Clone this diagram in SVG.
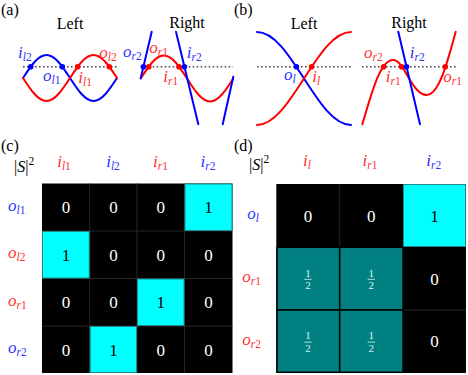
<svg xmlns="http://www.w3.org/2000/svg" width="468" height="375" viewBox="0 0 468 375">
<style>
.c{fill:none;stroke-width:2;stroke-linecap:round}
.b{stroke:#0000ff}
.r{stroke:#ff0000}
.db{fill:#0000ff}
.dr{fill:#ff0000}
.dash{stroke:#444;stroke-width:1.5;stroke-dasharray:1.6 2.4;fill:none}
.t{font-family:"Liberation Serif","Times New Roman",serif;font-size:16px;fill:#000}
.m{font-family:"Liberation Serif","Times New Roman",serif;font-style:italic;font-size:17px}
.lb{fill:#3030ff}
.lr{fill:#ff3030}
.sub{font-size:11.5px}
.up{font-style:normal}
.n{font-family:"Liberation Serif","Times New Roman",serif;font-size:17px;text-anchor:middle}
.w{fill:#fff}
.k{fill:#000}
.f{font-family:"Liberation Serif","Times New Roman",serif;font-size:11px;text-anchor:middle;fill:#d8f4f4}
.cy{fill:#00ffff;stroke:#1f8a8a;stroke-width:1}
.tl{fill:#008080;stroke:#000;stroke-width:1.5}
.g{stroke:#262626;stroke-width:1}
</style>

<g id="panel-a">
  <text class="t" x="1" y="15">(a)</text>
  <text class="t" x="70" y="29" text-anchor="middle">Left</text>
  <text class="t" x="187" y="28" text-anchor="middle">Right</text>
  <line class="dash" x1="23" y1="66.7" x2="117" y2="66.7"/>
  <path class="c b" d="M23,78 C30.860,65.92 38.04,55 46.5,55 C54.96,55 62.14,65.92 70,78 C77.86,90.08 85.04,101 93.5,101 C101.96,101 109.14,90.08 117,78"/>
  <path class="c r" d="M23,78 C30.86,90.08 38.04,101 46.5,101 C54.96,101 62.14,90.08 70,78 C77.86,65.92 85.04,55 93.5,55 C101.96,55 109.14,65.92 117,78"/>
  <circle class="db" cx="30.7" cy="66.7" r="2.8"/>
  <circle class="db" cx="62.3" cy="66.7" r="2.8"/>
  <circle class="dr" cx="77.7" cy="66.7" r="2.8"/>
  <circle class="dr" cx="109.3" cy="66.7" r="2.8"/>
  <text class="m lb" x="18" y="58">i<tspan class="sub" dy="3">l</tspan><tspan class="sub up">2</tspan></text>
  <text class="m lb" x="43" y="80.5">o<tspan class="sub" dy="3">l</tspan><tspan class="sub up">1</tspan></text>
  <text class="m lr" x="78.3" y="83">i<tspan class="sub" dy="3">l</tspan><tspan class="sub up">1</tspan></text>
  <text class="m lr" x="99.3" y="58">o<tspan class="sub" dy="3">l</tspan><tspan class="sub up">2</tspan></text>

  <line class="dash" x1="140.7" y1="66.7" x2="233" y2="66.7"/>
  <path class="c r" d="M140.7,78.5 C148.44,66.42 155.52,55.5 163.85,55.5 C172.18,55.5 179.26,66.42 187,78.5 C194.74,90.58 201.82,101.5 210.15,101.5 C218.48,101.5 225.56,90.58 233.3,78.5"/>
  <line class="c b" x1="151.7" y1="31.7" x2="140.7" y2="78.3"/>
  <line class="c b" x1="176" y1="31.7" x2="198.3" y2="124.3"/>
  <line class="c b" x1="222.7" y1="124.3" x2="233.3" y2="76.7"/>
  <circle class="db" cx="143.4" cy="66.7" r="2.8"/>
  <circle class="dr" cx="148.8" cy="66.7" r="2.8"/>
  <circle class="dr" cx="179" cy="66.7" r="2.8"/>
  <circle class="db" cx="184.4" cy="66.7" r="2.8"/>
  <text class="m lb" x="123" y="56.5">o<tspan class="sub" dy="3">r</tspan><tspan class="sub up">2</tspan></text>
  <text class="m lr" x="149.3" y="52.5">o<tspan class="sub" dy="3">r</tspan><tspan class="sub up">1</tspan></text>
  <text class="m lb" x="186.7" y="58">i<tspan class="sub" dy="3">r</tspan><tspan class="sub up">2</tspan></text>
  <text class="m lr" x="163.3" y="82">i<tspan class="sub" dy="3">r</tspan><tspan class="sub up">1</tspan></text>
</g>

<g id="panel-b">
  <text class="t" x="234" y="15">(b)</text>
  <text class="t" x="304" y="29" text-anchor="middle">Left</text>
  <text class="t" x="409" y="28" text-anchor="middle">Right</text>
  <line class="dash" x1="257" y1="66.7" x2="351" y2="66.7"/>
  <path class="c b" d="M257,32 C273.92,32 288.29,54.08 304,78.5 C319.71,102.92 334.08,125 351,125"/>
  <path class="c r" d="M257,125 C273.92,125 288.29,102.92 304,78.5 C319.71,54.08 334.08,32 351,32"/>
  <circle class="db" cx="296.4" cy="66.7" r="2.8"/>
  <circle class="dr" cx="311.6" cy="66.7" r="2.8"/>
  <text class="m lb" x="284" y="80">o<tspan class="sub" dy="3">l</tspan></text>
  <text class="m lr" x="312.3" y="81.5">i<tspan class="sub" dy="3">l</tspan></text>

  <line class="dash" x1="362" y1="66.7" x2="456" y2="66.7"/>
  <path class="c r" d="M362.3,124.3 C372,92 380,60 393.3,60 C404,60 412,95 426.7,95 C438,95 446,68 455.7,31.7"/>
  <line class="c b" x1="398.3" y1="31.7" x2="420" y2="124.3"/>
  <circle class="dr" cx="383.6" cy="66.7" r="2.8"/>
  <circle class="dr" cx="401.6" cy="66.7" r="2.8"/>
  <circle class="db" cx="406.5" cy="66.7" r="2.8"/>
  <circle class="dr" cx="445.3" cy="66.7" r="2.8"/>
  <text class="m lr" x="364" y="58">o<tspan class="sub" dy="3">r</tspan><tspan class="sub up">2</tspan></text>
  <text class="m lb" x="409.7" y="58">i<tspan class="sub" dy="3">r</tspan><tspan class="sub up">2</tspan></text>
  <text class="m lr" x="385.7" y="81.5">i<tspan class="sub" dy="3">r</tspan><tspan class="sub up">1</tspan></text>
  <text class="m lr" x="443.3" y="81.5">o<tspan class="sub" dy="3">r</tspan><tspan class="sub up">1</tspan></text>
</g>

<g id="panel-c">
  <text class="t" x="1" y="151">(c)</text>
  <text class="t" x="14" y="172">|<tspan font-style="italic">S</tspan>|<tspan font-size="11.5" dy="-7">2</tspan></text>
  <text class="m lr" x="64" y="166.5" text-anchor="middle">i<tspan class="sub" dy="3">l</tspan><tspan class="sub up">1</tspan></text>
  <text class="m lb" x="113" y="166.5" text-anchor="middle">i<tspan class="sub" dy="3">l</tspan><tspan class="sub up">2</tspan></text>
  <text class="m lr" x="160.5" y="166.5" text-anchor="middle">i<tspan class="sub" dy="3">r</tspan><tspan class="sub up">1</tspan></text>
  <text class="m lb" x="208" y="166.5" text-anchor="middle">i<tspan class="sub" dy="3">r</tspan><tspan class="sub up">2</tspan></text>
  <text class="m lb" x="8" y="210.5">o<tspan class="sub" dy="3">l</tspan><tspan class="sub up">1</tspan></text>
  <text class="m lr" x="8" y="258">o<tspan class="sub" dy="3">l</tspan><tspan class="sub up">2</tspan></text>
  <text class="m lr" x="8" y="305.5">o<tspan class="sub" dy="3">r</tspan><tspan class="sub up">1</tspan></text>
  <text class="m lb" x="8" y="353">o<tspan class="sub" dy="3">r</tspan><tspan class="sub up">2</tspan></text>
  <rect x="42" y="183.5" width="190.5" height="189.5" fill="#000"/>
  <g class="g">
    <line x1="89.7" y1="183.5" x2="89.7" y2="373"/>
    <line x1="137" y1="183.5" x2="137" y2="373"/>
    <line x1="184.5" y1="183.5" x2="184.5" y2="373"/>
    <line x1="42" y1="231" x2="232.5" y2="231"/>
    <line x1="42" y1="278.5" x2="232.5" y2="278.5"/>
    <line x1="42" y1="326" x2="232.5" y2="326"/>
  </g>
  <rect class="cy" x="185" y="184" width="47" height="46.5"/>
  <rect class="cy" x="42.5" y="231.5" width="46.7" height="46.5"/>
  <rect class="cy" x="137.5" y="279" width="46.5" height="46.5"/>
  <rect class="cy" x="90.2" y="326.5" width="46.3" height="46"/>
  <text class="n w" x="65.9" y="213">0</text>
  <text class="n w" x="113.4" y="213">0</text>
  <text class="n w" x="160.8" y="213">0</text>
  <text class="n k" x="208.5" y="213">1</text>
  <text class="n k" x="65.9" y="260.5">1</text>
  <text class="n w" x="113.4" y="260.5">0</text>
  <text class="n w" x="160.8" y="260.5">0</text>
  <text class="n w" x="208.5" y="260.5">0</text>
  <text class="n w" x="65.9" y="308">0</text>
  <text class="n w" x="113.4" y="308">0</text>
  <text class="n k" x="160.8" y="308">1</text>
  <text class="n w" x="208.5" y="308">0</text>
  <text class="n w" x="65.9" y="355.5">0</text>
  <text class="n k" x="113.4" y="355.5">1</text>
  <text class="n w" x="160.8" y="355.5">0</text>
  <text class="n w" x="208.5" y="355.5">0</text>
</g>

<g id="panel-d">
  <text class="t" x="234" y="151">(d)</text>
  <text class="t" x="249" y="170">|<tspan font-style="italic">S</tspan>|<tspan font-size="11.5" dy="-7">2</tspan></text>
  <text class="m lr" x="307" y="166" text-anchor="middle">i<tspan class="sub" dy="3">l</tspan></text>
  <text class="m lr" x="370" y="166" text-anchor="middle">i<tspan class="sub" dy="3">r</tspan><tspan class="sub up">1</tspan></text>
  <text class="m lb" x="433.7" y="166" text-anchor="middle">i<tspan class="sub" dy="3">r</tspan><tspan class="sub up">2</tspan></text>
  <text class="m lb" x="247.3" y="219">o<tspan class="sub" dy="3">l</tspan></text>
  <text class="m lr" x="242.3" y="281.5">o<tspan class="sub" dy="3">r</tspan><tspan class="sub up">1</tspan></text>
  <text class="m lr" x="242.3" y="345">o<tspan class="sub" dy="3">r</tspan><tspan class="sub up">2</tspan></text>
  <rect x="276.3" y="184" width="189.7" height="189" fill="#000"/>
  <g class="g">
    <line x1="339.7" y1="184" x2="339.7" y2="247.3"/>
    <line x1="403" y1="310" x2="466" y2="310"/>
  </g>
  <rect class="cy" x="403.5" y="184.5" width="62" height="62"/>
  <rect class="tl" x="277" y="247.3" width="62.7" height="62.7"/>
  <rect class="tl" x="339.7" y="247.3" width="63.3" height="62.7"/>
  <rect class="tl" x="277" y="310" width="62.7" height="62.3"/>
  <rect class="tl" x="339.7" y="310" width="63.3" height="62.3"/>
  <text class="n w" x="308" y="221.5">0</text>
  <text class="n w" x="371.3" y="221.5">0</text>
  <text class="n k" x="434.5" y="221.5">1</text>
  <text class="n w" x="434.5" y="284.5">0</text>
  <text class="n w" x="434.5" y="347.3">0</text>
  <g id="frac">
    <text class="f" x="308" y="276.5">1</text>
    <line x1="304.3" y1="279.3" x2="311.7" y2="279.3" stroke="#d8f4f4" stroke-width="0.8"/>
    <text class="f" x="308" y="289.3">2</text>
    <text class="f" x="371.3" y="276.5">1</text>
    <line x1="367.6" y1="279.3" x2="375" y2="279.3" stroke="#d8f4f4" stroke-width="0.8"/>
    <text class="f" x="371.3" y="289.3">2</text>
    <text class="f" x="308" y="339.3">1</text>
    <line x1="304.3" y1="342.1" x2="311.7" y2="342.1" stroke="#d8f4f4" stroke-width="0.8"/>
    <text class="f" x="308" y="352.1">2</text>
    <text class="f" x="371.3" y="339.3">1</text>
    <line x1="367.6" y1="342.1" x2="375" y2="342.1" stroke="#d8f4f4" stroke-width="0.8"/>
    <text class="f" x="371.3" y="352.1">2</text>
  </g>
</g>
</svg>
